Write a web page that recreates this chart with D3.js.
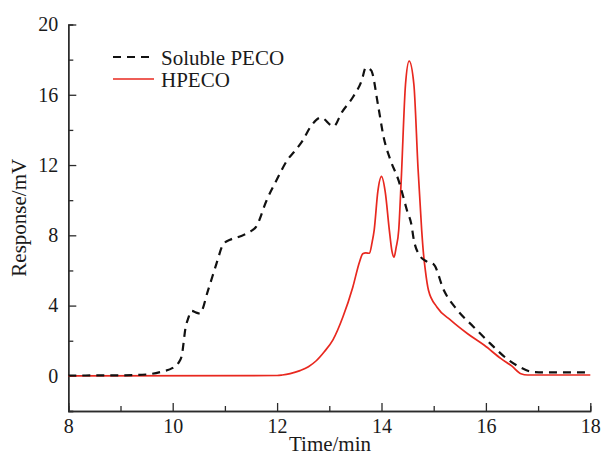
<!DOCTYPE html>
<html>
<head>
<meta charset="utf-8">
<script src="https://cdn.jsdelivr.net/npm/d3@7"></script>
<style>
  html, body { margin: 0; padding: 0; background: #fff; }
  svg { display: block; font-family: "Liberation Serif", "Times New Roman", serif; }
</style>
</head>
<body>
<svg id="chart" width="601" height="456"></svg>
<script>
// Elution time (min) and detector response (mV) for each sample
const solubleTime = [8.0, 9.0, 9.5, 9.8, 10.0, 10.1, 10.17, 10.25, 10.3, 10.36, 10.45, 10.52, 10.68, 10.84, 10.97, 11.1, 11.3, 11.48, 11.6, 11.8, 12.0, 12.2, 12.34, 12.47, 12.66, 12.84, 13.08, 13.24, 13.46, 13.62, 13.7, 13.8, 13.94, 14.04, 14.17, 14.33, 14.49, 14.58, 14.61, 14.71, 14.87, 15.0, 15.19, 15.45, 15.76, 16.08, 16.4, 16.65, 16.91, 17.2, 18.0];
const solubleResp = [0.02, 0.03, 0.08, 0.25, 0.45, 0.7, 1.1, 2.8, 3.3, 3.7, 3.6, 3.55, 4.9, 6.4, 7.5, 7.75, 7.95, 8.2, 8.5, 10.0, 11.2, 12.3, 12.8, 13.3, 14.26, 14.7, 14.2, 15.0, 15.9, 16.8, 17.55, 17.4, 15.3, 13.6, 12.3, 11.1, 9.4, 8.5, 7.9, 6.95, 6.5, 6.35, 4.9, 3.75, 2.8, 1.85, 0.98, 0.5, 0.22, 0.2, 0.2];

const hpecoTime = [8.0, 12.0, 12.1, 12.25, 12.44, 12.6, 12.75, 12.9, 13.07, 13.26, 13.45, 13.58, 13.64, 13.7, 13.77, 13.82, 13.86, 13.93, 14.0, 14.07, 14.15, 14.2, 14.24, 14.28, 14.33, 14.38, 14.46, 14.53, 14.62, 14.7, 14.77, 14.8, 14.84, 14.9, 15.06, 15.33, 15.65, 15.97, 16.29, 16.5, 16.67, 16.8, 18.0];
const hpecoResp = [0.0, 0.02, 0.05, 0.13, 0.3, 0.52, 0.86, 1.36, 2.05, 3.35, 5.05, 6.5, 6.95, 7.0, 6.98, 7.6, 8.3, 10.5, 11.35, 10.5, 8.3, 7.1, 6.76, 7.3, 8.3, 11.3, 16.6, 17.92, 16.6, 11.8, 8.28, 7.1, 6.0, 4.87, 3.92, 3.16, 2.4, 1.74, 0.98, 0.55, 0.12, 0.05, 0.05];

const seriesNames = ["Soluble PECO", "HPECO"];
const xMajorTicks = [8, 10, 12, 14, 16, 18];
const xMinorTicks = [9, 11, 13, 15, 17];
const yMajorTicks = [0, 4, 8, 12, 16, 20];
const yMinorTicks = [-2, 2, 6, 10, 14, 18];
const xTitle = "Time/min";
const yTitle = "Response/mV";

const svg = d3.select("#chart");
const x = d3.scaleLinear().domain([8, 18]).range([68.3, 590.3]);
const y = d3.scaleLinear().domain([-2, 20]).range([411, 24.5]);

const axisColor = "#2b2b2b";

function styleAxis(g) {
  g.selectAll("path.domain").attr("stroke", axisColor).attr("stroke-width", 1.4);
  g.selectAll(".tick line").attr("stroke", axisColor).attr("stroke-width", 1.3);
  g.selectAll(".tick text").attr("fill", "#1a1a1a").style("font-size", "20px")
    .style("font-family", '"Liberation Serif", "Times New Roman", serif');
}

// Minor ticks (inward, unlabeled)
svg.append("g").attr("transform", `translate(0,${y(-2)})`)
  .call(d3.axisBottom(x).tickValues(xMinorTicks).tickSize(-5).tickFormat(""))
  .call(styleAxis);
svg.append("g").attr("transform", `translate(${x(8)},0)`)
  .call(d3.axisLeft(y).tickValues(yMinorTicks).tickSize(-5).tickFormat(""))
  .call(styleAxis);

// Major ticks with labels
svg.append("g").attr("transform", `translate(0,${y(-2)})`)
  .call(d3.axisBottom(x).tickValues(xMajorTicks).tickSize(-8).tickPadding(8).tickSizeOuter(0))
  .call(styleAxis);
svg.append("g").attr("transform", `translate(${x(8)},0)`)
  .call(d3.axisLeft(y).tickValues(yMajorTicks).tickSize(-8).tickPadding(10).tickSizeOuter(0))
  .call(styleAxis);

// Axis titles
svg.append("text")
  .attr("x", 330).attr("y", 451)
  .attr("text-anchor", "middle")
  .style("font-size", "21px").attr("fill", "#1a1a1a")
  .text(xTitle);
svg.append("text")
  .attr("transform", `translate(26,${(y(-2) + y(20)) / 2}) rotate(-90)`)
  .attr("text-anchor", "middle")
  .style("font-size", "21px").attr("fill", "#1a1a1a")
  .text(yTitle);

// Curves
const line = d3.line()
  .x(d => x(d[0]))
  .y(d => y(d[1]))
  .curve(d3.curveMonotoneX);

const solubleData = solubleTime.map((t, i) => [t, solubleResp[i]]);
const hpecoData = hpecoTime.map((t, i) => [t, hpecoResp[i]]);

const styles = [
  { color: "#111", width: 2.2, dash: "8,6" },
  { color: "#e8281f", width: 1.7, dash: null }
];

svg.append("path")
  .datum(hpecoData)
  .attr("fill", "none")
  .attr("stroke", styles[1].color)
  .attr("stroke-width", styles[1].width)
  .attr("d", line);

svg.append("path")
  .datum(solubleData)
  .attr("fill", "none")
  .attr("stroke", styles[0].color)
  .attr("stroke-width", styles[0].width)
  .attr("stroke-dasharray", styles[0].dash)
  .attr("d", line);

// Legend
const legend = svg.append("g");
seriesNames.forEach((name, i) => {
  const ly = 57 + i * 22;
  legend.append("line")
    .attr("x1", 113).attr("x2", 154)
    .attr("y1", ly).attr("y2", ly)
    .attr("stroke", styles[i].color)
    .attr("stroke-width", styles[i].width)
    .attr("stroke-dasharray", styles[i].dash);
  legend.append("text")
    .attr("x", 161).attr("y", ly + 5)
    .attr("dy", "0.12em")
    .style("font-size", "21px").attr("fill", "#1a1a1a")
    .text(name);
});
</script>
</body>
</html>
